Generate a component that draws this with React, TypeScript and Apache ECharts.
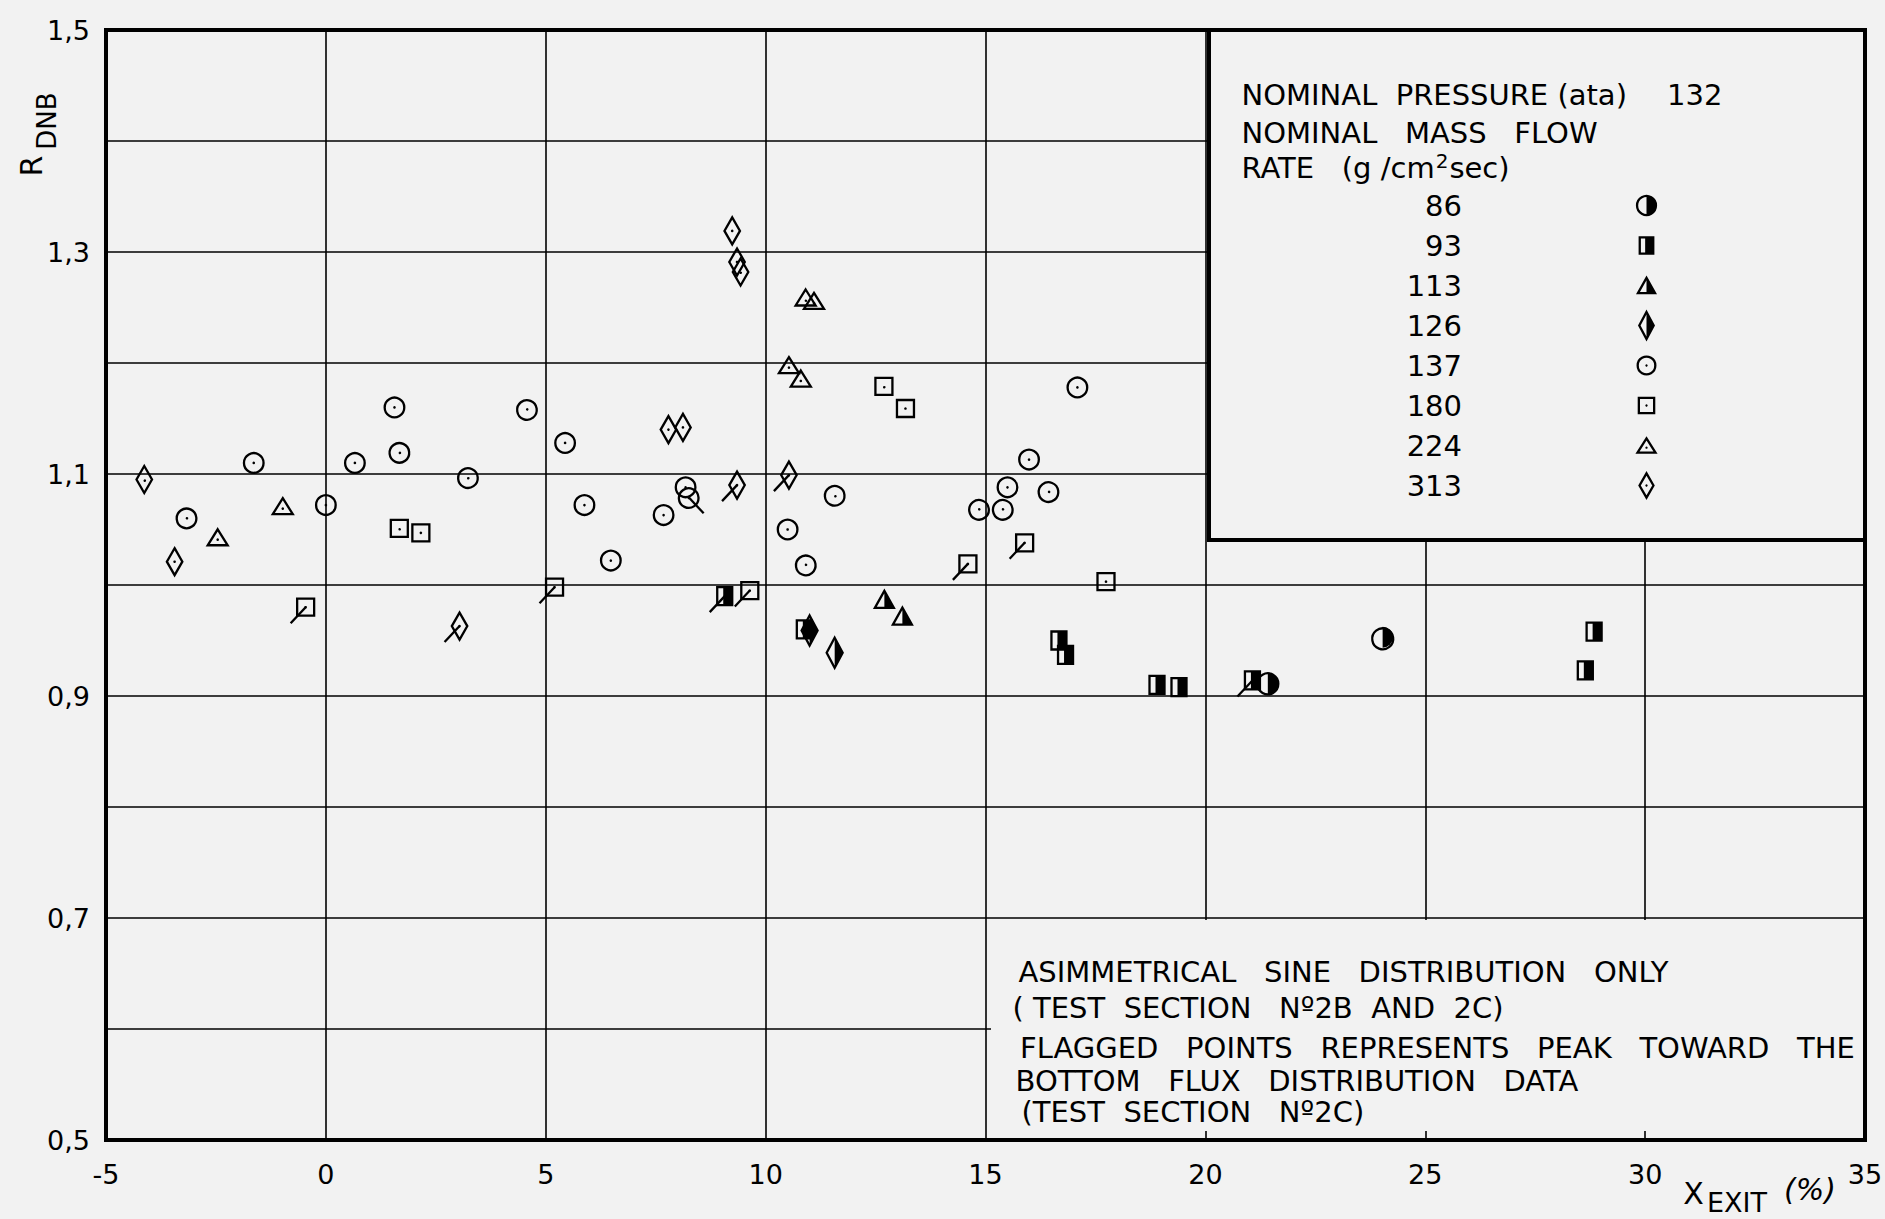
import React, { useEffect, useRef } from 'react';
import * as echarts from 'echarts';

// Axis ranges and tick labels
const X_MIN = -5;
const X_MAX = 35;
const X_STEP = 5;
const Y_MIN = 0.5;
const Y_MAX = 1.5;
const Y_STEP = 0.1;
const Y_LABELLED = [0.5, 0.7, 0.9, 1.1, 1.3, 1.5];

const PRESSURE_ATA = 132;
const MASS_FLOWS = [86, 93, 113, 126, 137, 180, 224, 313];

// Points: [X exit (%), R_DNB, flag]; flag 0 = plain, -1 = flag to lower left, 1 = flag to lower right
const G86 = [
  [21.42, 0.911, 0],
  [24.03, 0.953, 0],
];
const G93 = [
  [9.07, 0.99, -1],
  [10.88, 0.96, 0],
  [16.67, 0.95, 0],
  [16.82, 0.937, 0],
  [18.9, 0.91, 0],
  [19.4, 0.908, 0],
  [21.07, 0.914, -1],
  [28.64, 0.923, 0],
  [28.84, 0.958, 0],
];
const G113 = [
  [12.7, 0.987, 0],
  [13.11, 0.972, 0],
];
const G126 = [
  [11.0, 0.959, 0],
  [11.57, 0.939, 0],
];
const G137 = [
  [-3.17, 1.061, 0],
  [-1.64, 1.11, 0],
  [0.0, 1.072, 0],
  [0.66, 1.11, 0],
  [1.56, 1.16, 0],
  [1.67, 1.12, 0],
  [3.23, 1.097, 0],
  [4.57, 1.159, 0],
  [5.44, 1.128, 0],
  [5.88, 1.072, 0],
  [6.48, 1.022, 0],
  [7.68, 1.063, 0],
  [8.18, 1.088, 0],
  [8.25, 1.079, 1],
  [10.5, 1.05, 0],
  [10.91, 1.019, 0],
  [11.57, 1.081, 0],
  [14.85, 1.069, 0],
  [15.39, 1.069, 0],
  [15.5, 1.088, 0],
  [15.99, 1.113, 0],
  [16.43, 1.085, 0],
  [17.09, 1.178, 0],
];
const G180 = [
  [-0.46, 0.98, -1],
  [1.67, 1.051, 0],
  [2.16, 1.047, 0],
  [5.2, 0.998, -1],
  [9.64, 0.995, -1],
  [12.69, 1.179, 0],
  [13.18, 1.159, 0],
  [14.6, 1.019, -1],
  [15.89, 1.038, -1],
  [17.74, 1.003, 0],
];
const G224 = [
  [-2.46, 1.043, 0],
  [-0.98, 1.071, 0],
  [10.53, 1.198, 0],
  [10.8, 1.186, 0],
  [10.91, 1.259, 0],
  [11.1, 1.256, 0],
];
const G313 = [
  [-4.13, 1.095, 0],
  [-3.44, 1.021, 0],
  [3.04, 0.963, -1],
  [7.79, 1.14, 0],
  [8.12, 1.142, 0],
  [9.24, 1.319, 0],
  [9.35, 1.291, 0],
  [9.43, 1.282, 0],
  [9.35, 1.09, -1],
  [10.53, 1.099, -1],
];

const GROUPS = [G86, G93, G113, G126, G137, G180, G224, G313];
const KINDS = ['circleHalf', 'squareHalf', 'triHalf', 'diamondHalf', 'circleDot', 'squareDot', 'triDot', 'diamondDot'];

const FONT = "'DejaVu Sans', 'Noto Sans', sans-serif";
const INK = '#000';
const BG = '#f2f2f2';
const LW = 2.3;
const NB = '\u00A0';

function markerChildren(kind: string, cx: number, cy: number, s: number): any[] {
  const outline = { fill: 'none', stroke: INK, lineWidth: LW };
  const solid = { fill: INK };
  const dot = (x: number, y: number) => ({ type: 'circle', shape: { cx: x, cy: y, r: 1.3 * s }, style: solid });
  if (kind === 'circleHalf' || kind === 'circleDot') {
    const r = (kind === 'circleHalf' ? 10.5 : 9.8) * s;
    const ring = { type: 'circle', shape: { cx, cy, r }, style: outline };
    if (kind === 'circleDot') return [ring, dot(cx, cy)];
    return [
      { type: 'sector', shape: { cx, cy, r0: 0, r, startAngle: -Math.PI / 2, endAngle: Math.PI / 2, clockwise: true }, style: solid },
      ring,
    ];
  }
  if (kind === 'squareHalf' || kind === 'squareDot') {
    const w = (kind === 'squareHalf' ? 15 : 17) * s;
    const h = (kind === 'squareHalf' ? 18 : 17) * s;
    const box = { type: 'rect', shape: { x: cx - w / 2, y: cy - h / 2, width: w, height: h }, style: outline };
    if (kind === 'squareDot') return [box, dot(cx, cy)];
    return [{ type: 'rect', shape: { x: cx - w * 0.1, y: cy - h / 2, width: w * 0.6, height: h }, style: solid }, box];
  }
  if (kind === 'triHalf' || kind === 'triDot') {
    const w = (kind === 'triHalf' ? 19 : 20) * s;
    const h = (kind === 'triHalf' ? 17 : 16) * s;
    const top = cy - h / 2;
    const bot = cy + h / 2;
    const tri = { type: 'polygon', shape: { points: [[cx, top], [cx + w / 2, bot], [cx - w / 2, bot]] }, style: outline };
    if (kind === 'triDot') return [tri, dot(cx, cy + h * 0.15)];
    return [{ type: 'polygon', shape: { points: [[cx, top], [cx + w / 2, bot], [cx, bot]] }, style: solid }, tri];
  }
  const w = (kind === 'diamondHalf' ? 16 : 15.5) * s;
  const h = (kind === 'diamondHalf' ? 30 : 27) * s;
  const dia = {
    type: 'polygon',
    shape: { points: [[cx, cy - h / 2], [cx + w / 2, cy], [cx, cy + h / 2], [cx - w / 2, cy]] },
    style: outline,
  };
  if (kind === 'diamondDot') return [dia, dot(cx, cy)];
  return [{ type: 'polygon', shape: { points: [[cx, cy - h / 2], [cx + w / 2, cy], [cx, cy + h / 2]] }, style: solid }, dia];
}

const makeRender = (kind: string) => (_params: any, api: any) => {
  const [cx, cy] = api.coord([api.value(0), api.value(1)]);
  const flag = api.value(2);
  const children = markerChildren(kind, cx, cy, 1);
  if (flag) {
    children.push({
      type: 'line',
      shape: { x1: cx, y1: cy, x2: cx + flag * 15, y2: cy + 16 },
      style: { stroke: INK, lineWidth: LW },
    });
  }
  return { type: 'group', children };
};

const txt = (text: string, x: number, y: number, size: number, align = 'left', extra: any = {}, styleExtra: any = {}) => ({
  type: 'text',
  x,
  y,
  z: 12,
  silent: true,
  ...extra,
  style: {
    text,
    fontSize: size,
    lineHeight: size,
    fontFamily: FONT,
    fill: INK,
    align,
    verticalAlign: 'middle',
    textAlign: align,
    textVerticalAlign: 'middle',
    ...styleExtra,
  },
});

// width of a string in the page's own font, for placing the raised "2" of cm2
function textWidth(s: string, size: number): number {
  const ctx = document.createElement('canvas').getContext('2d');
  if (!ctx) return s.length * size * 0.6;
  ctx.font = `${size}px ${FONT}`;
  return ctx.measureText(s).width;
}

export default function App() {
  const ref = useRef<HTMLDivElement>(null);

  useEffect(() => {
    document.body.style.margin = '0';
    document.body.style.background = BG;
    const chart = echarts.init(ref.current!, null, { renderer: 'svg' });

    const series = GROUPS.map((g, i) => ({
      name: String(MASS_FLOWS[i]),
      type: 'custom',
      coordinateSystem: 'cartesian2d',
      silent: true,
      z: 3,
      dimensions: ['x', 'y', 'flag'],
      encode: { x: 0, y: 1 },
      data: g,
      renderItem: makeRender(KINDS[i]),
    }));

    // Legend box contents
    const legendRows: any[] = [];
    MASS_FLOWS.forEach((m, i) => {
      const y = 205.5 + i * 40;
      legendRows.push(txt(String(m), 1462, y, 29, 'right'));
      markerChildren(KINDS[i], 1646.5, y, 0.9).forEach((c) => legendRows.push({ ...c, z: 12, silent: true }));
    });

    const S3 = NB + NB + NB;
    const S2 = NB + NB;

    const rateHead = 'RATE' + S3 + '(g' + NB + '/cm';
    const rateX = 1241.5;
    const rateW = textWidth(rateHead, 29);
    const supW = textWidth('2', 20);

    const graphic = [
      // blank panel behind the notes at the lower right
      { type: 'rect', z: 10, silent: true, shape: { x: 991, y: 920, width: 872, height: 211 }, style: { fill: BG } },
      // legend frame
      {
        type: 'rect',
        z: 10,
        silent: true,
        shape: { x: 1209, y: 30, width: 656, height: 510 },
        style: { fill: BG, stroke: '#000', lineWidth: 4 },
      },
      txt('NOMINAL' + S2 + 'PRESSURE' + NB + '(ata)', 1241.5, 95, 29),
      txt(String(PRESSURE_ATA), 1667, 95, 29),
      txt('NOMINAL' + S3 + 'MASS' + S3 + 'FLOW', 1241.5, 132.5, 29),
      txt(rateHead, rateX, 168, 29),
      txt('2', rateX + rateW + 1, 161, 20, 'left', {}, { lineHeight: 14 }),
      txt('sec)', rateX + rateW + supW + 2, 168, 29),
      ...legendRows,
      // notes
      txt('ASIMMETRICAL' + S3 + 'SINE' + S3 + 'DISTRIBUTION' + S3 + 'ONLY', 1018.5, 972, 29),
      txt('(' + NB + 'TEST' + S2 + 'SECTION' + S3 + 'Nº2B' + S2 + 'AND' + S2 + '2C)', 1012.5, 1008, 29),
      txt('FLAGGED' + S3 + 'POINTS' + S3 + 'REPRESENTS' + S3 + 'PEAK' + S3 + 'TOWARD' + S3 + 'THE', 1020, 1048, 29),
      txt('BOTTOM' + S3 + 'FLUX' + S3 + 'DISTRIBUTION' + S3 + 'DATA', 1015.5, 1081, 29),
      txt('(TEST' + S2 + 'SECTION' + S3 + 'Nº2C)', 1021.5, 1112, 29),
      // axis titles
      txt('R', 31, 166, 30, 'center', { rotation: Math.PI / 2 }),
      txt('DNB', 47, 121, 26, 'center', { rotation: Math.PI / 2 }),
      txt('X', 1693.5, 1193, 30, 'center'),
      txt('EXIT', 1707, 1202, 27, 'left'),
      txt('(%)', 1810, 1189, 30, 'center', {}, { fontStyle: 'italic' }),
    ];

    chart.setOption({
      animation: false,
      backgroundColor: BG,
      grid: {
        left: 106,
        right: 20,
        top: 30,
        bottom: 79,
        show: true,
        borderColor: '#000',
        borderWidth: 4,
        backgroundColor: 'transparent',
        outerBoundsMode: 'none',
      },
      xAxis: {
        type: 'value',
        min: X_MIN,
        max: X_MAX,
        interval: X_STEP,
        axisLine: { show: false },
        axisTick: { show: false },
        splitLine: { show: true, lineStyle: { color: '#000', width: 1.6 } },
        axisLabel: { fontSize: 27, fontFamily: FONT, color: INK, margin: 21 },
      },
      yAxis: {
        type: 'value',
        min: Y_MIN,
        max: Y_MAX,
        interval: Y_STEP,
        axisLine: { show: false },
        axisTick: { show: false },
        splitLine: { show: true, lineStyle: { color: '#000', width: 1.6 } },
        axisLabel: {
          fontSize: 27,
          fontFamily: FONT,
          color: INK,
          margin: 16,
          formatter: (v: number) =>
            Y_LABELLED.some((t) => Math.abs(t - v) < 1e-6) ? v.toFixed(1).replace('.', ',') : '',
        },
      },
      series,
      graphic: { elements: graphic },
    });

    return () => chart.dispose();
  }, []);

  return <div ref={ref} style={{ position: 'absolute', left: 0, top: 0, width: 1885, height: 1219 }} />;
}
